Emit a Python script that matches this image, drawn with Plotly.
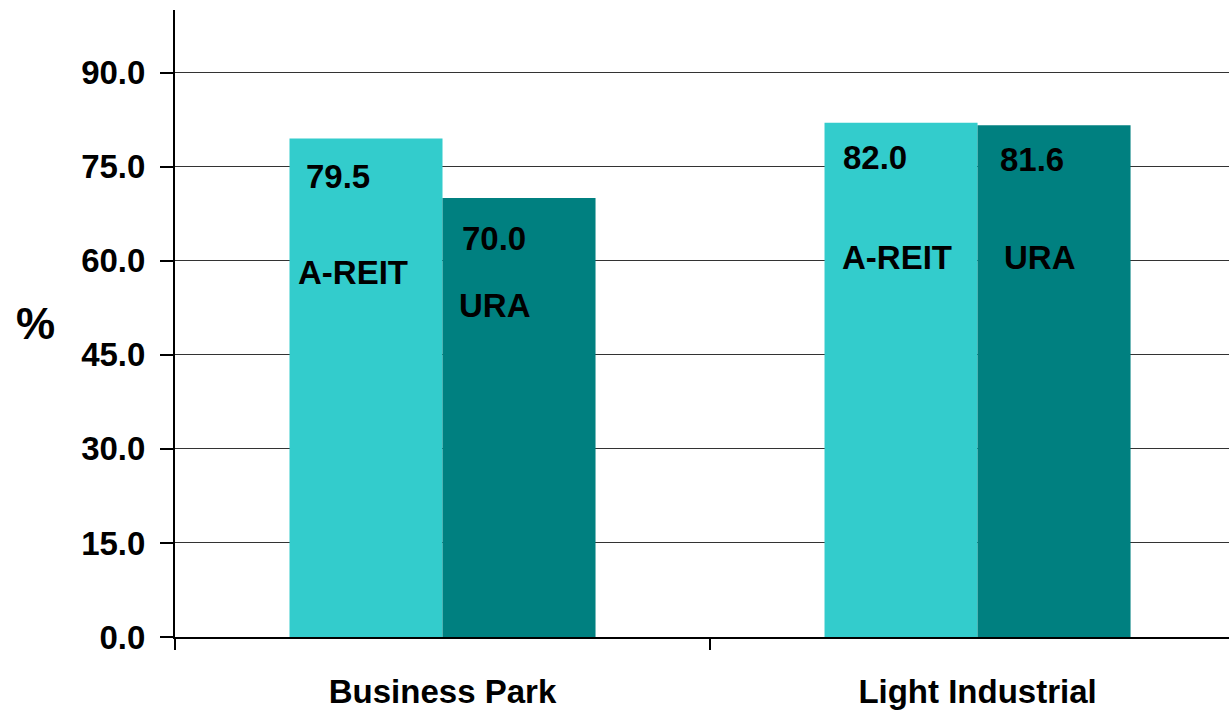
import plotly.graph_objects as go

categories = ["Business Park", "Light Industrial"]
series_names = ["A-REIT", "URA"]
areit_values = [79.5, 82.0]
ura_values = [70.0, 81.6]
y_tick_values = [0, 15, 30, 45, 60, 75, 90]
y_tick_labels = ["0.0", "15.0", "30.0", "45.0", "60.0", "75.0", "90.0"]

# label placement (category-index / value units), kept apart from data
value_label_pos = {
    "A-REIT": [(-0.195, 73.5), (0.808, 76.4)],
    "URA": [(0.096, 63.6), (1.102, 76.2)],
}
name_label_pos = {
    "A-REIT": [(-0.167, 58.1), (0.850, 60.6)],
    "URA": [(0.098, 52.9), (1.117, 60.6)],
}

FONT = "Liberation Sans, Arial, sans-serif"
FS = 33
light = "#33CCCC"
dark = "#008080"

fig = go.Figure()
fig.add_trace(go.Bar(x=categories, y=areit_values, name=series_names[0],
                     marker=dict(color=light, line=dict(width=0))))
fig.add_trace(go.Bar(x=categories, y=ura_values, name=series_names[1],
                     marker=dict(color=dark, line=dict(width=0))))

annotations = []
for name, vals in (("A-REIT", areit_values), ("URA", ura_values)):
    for i, v in enumerate(vals):
        x, y = value_label_pos[name][i]
        annotations.append(dict(x=x, y=y, xref="x", yref="y", text=f"<b>{v:.1f}</b>",
                                showarrow=False, xanchor="center", yanchor="middle",
                                font=dict(family=FONT, size=FS, color="black")))
        x, y = name_label_pos[name][i]
        annotations.append(dict(x=x, y=y, xref="x", yref="y", text=f"<b>{name}</b>",
                                showarrow=False, xanchor="center", yanchor="middle",
                                font=dict(family=FONT, size=FS, color="black")))
annotations.append(dict(x=-0.1328, y=0.5, xref="paper", yref="paper", text="<b>%</b>",
                        showarrow=False, xanchor="center", yanchor="middle",
                        font=dict(family=FONT, size=44, color="black")))

fig.update_layout(
    width=1229, height=710,
    margin=dict(l=175, r=0, t=10, b=73, pad=0, autoexpand=False),
    paper_bgcolor="white", plot_bgcolor="white",
    barmode="group", bargap=0.428, bargroupgap=0,
    showlegend=False,
    font=dict(family=FONT, size=FS, color="black"),
    annotations=annotations,
)
fig.update_xaxes(
    type="category", range=[-0.5, 1.47], automargin=False,
    showline=True, linecolor="black", linewidth=2,
    ticks="outside", tickson="boundaries", ticklen=11, tickwidth=1.5, tickcolor="black",
    tickfont=dict(family=FONT, size=FS, color="black"),
    ticklabelstandoff=24,
    tickvals=categories, ticktext=[f"<b>{c}</b>" for c in categories],
    showgrid=False, zeroline=False,
)
fig.update_yaxes(
    range=[0, 100], automargin=False,
    tickvals=y_tick_values, ticktext=[f"<b>{t}</b>" for t in y_tick_labels],
    showline=True, linecolor="black", linewidth=2,
    ticks="outside", ticklen=13, tickwidth=1.5, tickcolor="black",
    tickfont=dict(family=FONT, size=FS, color="black"),
    ticklabelstandoff=8,
    showgrid=True, gridcolor="#333333", gridwidth=1.3,
    zeroline=False,
)

fig.write_html("out.html")
